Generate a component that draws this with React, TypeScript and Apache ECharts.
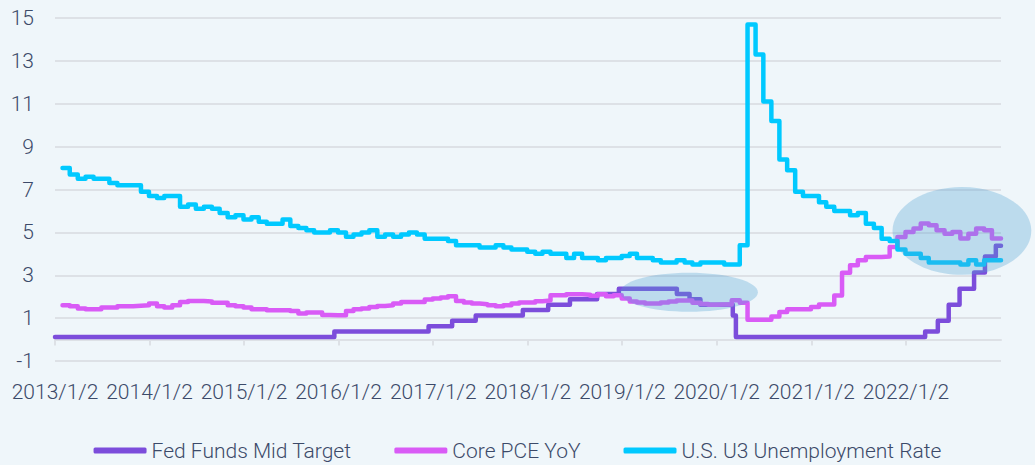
import React, { useEffect, useRef } from 'react';
import * as echarts from 'echarts';

// ---------- data ----------
const tickLabels = ['2013/1/2', '2014/1/2', '2015/1/2', '2016/1/2', '2017/1/2', '2018/1/2', '2019/1/2', '2020/1/2', '2021/1/2', '2022/1/2'];
const axisStart = '2013/1/2';
const axisEnd = '2023/1/4';

const seriesNames = ['Fed Funds Mid Target', 'Core PCE YoY', 'U.S. U3 Unemployment Rate'];

// Fed funds mid target: change dates and new levels
const fedDates = ['2013/1/2', '2015/12/17', '2016/12/15', '2017/3/16', '2017/6/15', '2017/12/14', '2018/3/22', '2018/6/14', '2018/9/27', '2018/12/20', '2019/8/1', '2019/9/19', '2019/10/31', '2020/3/4', '2020/3/16', '2022/3/17', '2022/5/5', '2022/6/16', '2022/7/28', '2022/9/22', '2022/11/3', '2022/12/15'];
const fedValues = [0.125, 0.375, 0.625, 0.875, 1.125, 1.375, 1.625, 1.875, 2.125, 2.375, 2.125, 1.875, 1.625, 1.125, 0.125, 0.375, 0.875, 1.625, 2.375, 3.125, 3.875, 4.375];

// Monthly series, month-end dated, starting January 2013
const monthlyStartYear = 2013;
const pceValues = [
  1.60, 1.55, 1.45, 1.41, 1.41, 1.49, 1.49, 1.55, 1.55, 1.58, 1.60, 1.68,
  1.55, 1.49, 1.60, 1.75, 1.80, 1.80, 1.78, 1.72, 1.72, 1.60, 1.55, 1.49,
  1.41, 1.41, 1.37, 1.37, 1.37, 1.33, 1.22, 1.26, 1.26, 1.15, 1.13, 1.13,
  1.33, 1.41, 1.45, 1.52, 1.57, 1.60, 1.68, 1.75, 1.75, 1.75, 1.87, 1.91,
  1.96, 2.02, 1.80, 1.73, 1.68, 1.65, 1.60, 1.55, 1.60, 1.68, 1.73, 1.73,
  1.79, 1.82, 2.07, 2.07, 2.11, 2.11, 2.09, 2.04, 2.11, 2.02, 2.07, 1.91,
  1.78, 1.73, 1.68, 1.68, 1.73, 1.78, 1.82, 1.82, 1.72, 1.66, 1.62, 1.64,
  1.64, 1.83, 1.72, 0.93, 0.93, 0.93, 1.08, 1.29, 1.41, 1.41, 1.41, 1.52,
  1.64, 1.64, 2.05, 3.12, 3.47, 3.70, 3.85, 3.85, 3.87, 4.32, 4.79, 5.02,
  5.18, 5.41, 5.33, 5.10, 4.94, 5.02, 4.71, 4.94, 5.18, 5.10, 4.71,
];
const u3Values = [
  8.0, 7.7, 7.5, 7.6, 7.5, 7.5, 7.3, 7.2, 7.2, 7.2, 6.9, 6.7,
  6.6, 6.7, 6.7, 6.2, 6.3, 6.1, 6.2, 6.1, 5.9, 5.7, 5.8, 5.6,
  5.7, 5.5, 5.4, 5.4, 5.6, 5.3, 5.2, 5.1, 5.0, 5.0, 5.1, 5.0,
  4.8, 4.9, 5.0, 5.1, 4.8, 4.9, 4.8, 4.9, 5.0, 4.9, 4.7, 4.7,
  4.7, 4.6, 4.4, 4.4, 4.4, 4.3, 4.3, 4.4, 4.3, 4.2, 4.2, 4.1,
  4.0, 4.1, 4.0, 4.0, 3.8, 4.0, 3.8, 3.8, 3.7, 3.8, 3.8, 3.9,
  4.0, 3.8, 3.8, 3.7, 3.6, 3.6, 3.7, 3.6, 3.5, 3.6, 3.6, 3.6,
  3.5, 3.5, 4.4, 14.7, 13.3, 11.1, 10.2, 8.4, 7.9, 6.9, 6.7, 6.7,
  6.4, 6.2, 6.0, 6.0, 5.8, 5.9, 5.4, 5.2, 4.7, 4.6, 4.2, 4.0,
  4.0, 3.8, 3.6, 3.6, 3.6, 3.6, 3.5, 3.7, 3.5, 3.7, 3.7,
];

// Highlight ellipses (data coordinates): centre date, centre value, half width (days), half height (value units)
const highlightCenters = ['2019/9/17', '2022/8/6'];
const highlightValues = [2.21, 5.07];
const highlightHalfDays = [266, 268];
const highlightHalfValues = [0.91, 2.05];

// ---------- helpers ----------
const DAY = 86400000;
const parseDate = (s: string) => {
  const [y, m, d] = s.split('/').map(Number);
  return Date.UTC(y, m - 1, d);
};
const monthEnd = (i: number) => Date.UTC(monthlyStartYear, i + 1, 0);
const startT = parseDate(axisStart);
const endT = parseDate(axisEnd);
const tickTimes = tickLabels.map(parseDate);

const withEnd = (pts: number[][]) => {
  const last = pts[pts.length - 1];
  return [...pts, [endT, last[1]]];
};
const fedData = withEnd(fedDates.map((d, i) => [parseDate(d), fedValues[i]]));
const pceData = withEnd(pceValues.map((v, i) => [monthEnd(i), v]));
const u3Data = withEnd(u3Values.map((v, i) => [monthEnd(i), v]));

const colors = ['#7c4ddb', '#d95bf6', '#00c9ff'];
const textColor = '#3c4a69';
const gridColor = '#dde1e6';
const FONT = 'Roboto';
const FS = 21;

export default function App() {
  const ref = useRef<HTMLDivElement>(null);
  useEffect(() => {
    if (!ref.current) return;
    const chart = echarts.init(ref.current, undefined, { renderer: 'svg' });
    const mkSeries = (name: string, data: number[][], color: string) => ({
      name,
      type: 'line',
      step: 'end',
      data,
      showSymbol: false,
      symbol: 'none',
      lineStyle: { color, width: 4.5, cap: 'round', join: 'round' },
      itemStyle: { color },
    });
    chart.setOption({
      animation: false,
      backgroundColor: '#eff6fa',
      textStyle: { fontFamily: FONT },
      grid: { left: 55, right: 34, top: 18, bottom: 104, containLabel: false, outerBoundsMode: 'none' },
      legend: {
        top: 435,
        left: 'center',
        icon: 'roundRect',
        itemWidth: 53,
        itemHeight: 6,
        itemGap: 43,
        textStyle: { color: textColor, fontSize: FS, fontWeight: 300, fontFamily: FONT },
        data: seriesNames,
      },
      xAxis: {
        type: 'value',
        min: startT,
        max: endT,
        axisLine: { show: true, onZero: true, lineStyle: { color: gridColor, width: 2 } },
        axisTick: { show: true, customValues: tickTimes, length: 6, lineStyle: { color: gridColor, width: 2 } },
        axisLabel: {
          customValues: tickTimes,
          margin: 20,
          color: textColor,
          fontSize: FS,
          fontWeight: 300,
          fontFamily: FONT,
          formatter: (v: number) => {
            let best = 0;
            for (let i = 1; i < tickTimes.length; i++) {
              if (Math.abs(tickTimes[i] - v) < Math.abs(tickTimes[best] - v)) best = i;
            }
            return Math.abs(tickTimes[best] - v) < 5 * DAY ? tickLabels[best] : '';
          },
        },
        splitLine: { show: false },
      },
      yAxis: {
        type: 'value',
        min: -1,
        max: 15,
        interval: 2,
        axisLine: { show: false },
        axisTick: { show: false },
        axisLabel: { color: textColor, fontSize: FS, fontWeight: 300, fontFamily: FONT, margin: 21 },
        splitLine: { lineStyle: { color: gridColor, width: 2 } },
      },
      series: [
        mkSeries(seriesNames[0], fedData, colors[0]),
        mkSeries(seriesNames[1], pceData, colors[1]),
        mkSeries(seriesNames[2], u3Data, colors[2]),
      ],
    });

    const elements = highlightCenters.map((c, i) => {
      const ct = parseDate(c);
      const p = chart.convertToPixel({ gridIndex: 0 }, [ct, highlightValues[i]]) as number[];
      const px = chart.convertToPixel({ gridIndex: 0 }, [ct + highlightHalfDays[i] * DAY, highlightValues[i] + highlightHalfValues[i]]) as number[];
      return {
        type: 'ellipse',
        z: 100,
        silent: true,
        shape: { cx: p[0], cy: p[1], rx: Math.abs(px[0] - p[0]), ry: Math.abs(px[1] - p[1]) },
        style: { fill: 'rgba(82,163,210,0.32)' },
      };
    });
    chart.setOption({ graphic: { elements } });

    return () => chart.dispose();
  }, []);
  return <div ref={ref} style={{ position: 'fixed', left: 0, top: 0, width: 1035, height: 465 }} />;
}
